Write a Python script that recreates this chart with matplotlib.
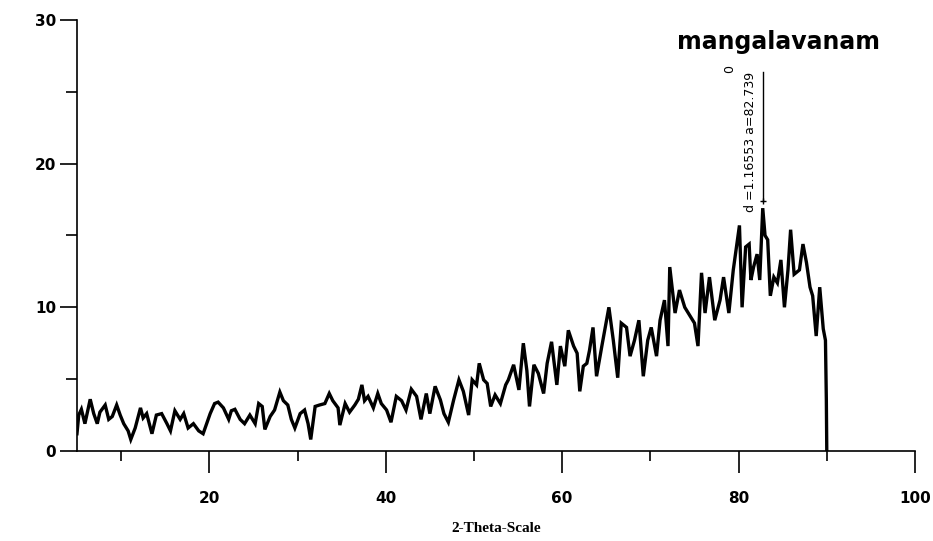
import matplotlib
matplotlib.use("Agg")
import matplotlib.pyplot as plt
from matplotlib.ticker import MultipleLocator

# 2-theta positions and intensities
two_theta = [
    5.0, 5.2, 5.5, 5.9, 6.5, 6.9, 7.3, 7.6, 8.2, 8.6, 9.0, 9.5, 9.9, 10.3, 10.8,
    11.1, 11.6, 12.2, 12.5, 12.9, 13.5, 14.0, 14.6, 15.2, 15.6, 16.1, 16.7, 17.1,
    17.6, 18.2, 18.8, 19.3, 19.7, 20.1, 20.6, 21.0, 21.6, 22.2, 22.5, 22.9, 23.5,
    24.0, 24.6, 25.2,
    25.6, 26.0, 26.3, 26.9, 27.4, 28.0, 28.4, 28.9, 29.3, 29.7, 30.3, 30.8, 31.2,
    31.5, 32.0, 32.5, 33.1, 33.6, 34.0, 34.6, 34.8, 35.4, 35.9, 36.5, 36.9, 37.3,
    37.6, 38.0, 38.6, 39.1, 39.5, 40.1, 40.6, 41.2, 41.8, 42.3, 42.9, 43.5, 44.0,
    44.6,
    45.0, 45.6, 46.2, 46.6, 47.1, 47.7, 48.3, 48.8, 49.4, 49.8, 50.3, 50.6, 51.1,
    51.5, 51.9, 52.4, 53.0, 53.6, 53.9, 54.5, 55.1, 55.6, 56.0, 56.3, 56.8, 57.3,
    57.9, 58.3, 58.8, 59.4, 59.8, 60.3, 60.7, 61.3, 61.7, 62.0, 62.4,
    62.8, 63.1, 63.5, 63.9, 64.5, 65.3, 65.8, 66.3, 66.7, 67.3, 67.7, 68.2, 68.7,
    69.2, 69.7, 70.1, 70.7, 71.1, 71.6, 72.0, 72.2, 72.8, 73.3, 73.9, 74.5, 75.0,
    75.4, 75.8,
    76.2, 76.7, 77.3, 77.9, 78.3, 78.9, 79.4, 79.8, 80.1, 80.4, 80.8, 81.2, 81.4,
    81.7, 82.1, 82.4, 82.74, 83.0, 83.3, 83.6, 84.0, 84.4, 84.8, 85.2, 85.6, 85.9,
    86.3, 86.9, 87.3, 87.7, 88.1, 88.4, 88.8, 89.2, 89.6, 89.85, 89.95, 90.0,
]
counts = [
    1.2, 2.5, 2.9, 1.9, 3.6, 2.6, 1.9, 2.7, 3.2, 2.2, 2.4, 3.2, 2.5, 1.9, 1.4,
    0.8, 1.6, 3.0, 2.3, 2.6, 1.2, 2.5, 2.6, 1.9, 1.4, 2.8, 2.2, 2.6,
    1.6, 1.9, 1.4, 1.2, 1.9, 2.6, 3.3, 3.4, 3.0, 2.2, 2.8, 2.9, 2.2,
    1.9, 2.5, 1.9,
    3.3, 3.1, 1.5, 2.4, 2.85, 4.1, 3.5, 3.2, 2.2, 1.6, 2.6, 2.85, 1.9,
    0.8, 3.1, 3.2, 3.3, 4.0, 3.5, 3.0, 1.8, 3.3, 2.7, 3.2, 3.6, 4.6,
    3.5, 3.8, 3.0, 4.0, 3.3, 2.85, 2.0, 3.8, 3.5, 2.85, 4.3, 3.8, 2.2,
    4.0,
    2.6, 4.5, 3.55, 2.6, 2.0, 3.55, 4.95, 4.15, 2.5, 4.95, 4.6, 6.1, 4.95,
    4.7, 3.1, 3.9, 3.3, 4.6, 4.95, 6.0, 4.25, 7.5, 5.6, 3.1, 6.0, 5.4,
    4.0, 6.1, 7.6, 4.6, 7.3, 5.9, 8.4, 7.3, 6.8, 4.15, 5.9,
    6.1, 7.0, 8.6, 5.2, 7.3, 10.0, 7.7, 5.1, 8.9, 8.6, 6.6, 7.7, 9.1,
    5.2, 7.7, 8.6, 6.6, 9.1, 10.5, 7.3, 12.8, 9.6, 11.2, 10.0, 9.4, 8.9,
    7.3, 12.4,
    9.6, 12.1, 9.1, 10.5, 12.1, 9.6, 12.6, 14.4, 15.7, 10.0, 14.2, 14.4, 11.9,
    12.8, 13.7, 11.9, 16.9, 15.0, 14.7, 10.8, 12.1, 11.7, 13.3, 10.0, 12.6, 15.4,
    12.3, 12.6, 14.4, 13.1, 11.4, 10.8, 8.0, 11.4, 8.5, 7.7, 3.55, 0.0,
]

peak_theta = 82.739
peak_d = 1.16553

fig = plt.figure(figsize=(9.33, 5.41), dpi=100)
ax = fig.add_axes([0.0825, 0.1664, 0.8982, 0.7967])

ax.plot(two_theta, counts, color="black", linewidth=2.4, solid_joinstyle="miter")

# peak marker
ax.plot([peak_theta, peak_theta], [17.4, 26.4], color="black", linewidth=1.0)
ax.plot([peak_theta], [17.4], marker="+", color="black", markersize=5, mew=1.0)
ax.text(81.4, 16.6, "d =1.16553 a=82.739", rotation=90, ha="center", va="bottom",
        fontsize=9, family="DejaVu Sans")
ax.text(79.0, 26.6, "0", rotation=90, ha="center", va="center",
        fontsize=9, family="DejaVu Sans")

ax.text(84.5, 28.5, "mangalavanam", ha="center", va="center", fontsize=17,
        fontweight="bold", family="DejaVu Sans")

ax.set_xlim(5, 100)
ax.set_ylim(0, 30)
ax.xaxis.set_major_locator(MultipleLocator(20))
ax.xaxis.set_minor_locator(MultipleLocator(10))
ax.yaxis.set_major_locator(MultipleLocator(10))
ax.yaxis.set_minor_locator(MultipleLocator(5))

ax.spines["top"].set_visible(False)
ax.spines["right"].set_visible(False)
for s in ("left", "bottom"):
    ax.spines[s].set_linewidth(1.2)

ax.tick_params(axis="x", which="major", length=16, width=1.2, pad=13, labelsize=11)
ax.tick_params(axis="x", which="minor", length=7, width=1.2)
ax.tick_params(axis="y", which="major", length=12, width=1.2, pad=3, labelsize=11)
ax.tick_params(axis="y", which="minor", length=8, width=1.2)
for lab in ax.get_xticklabels() + ax.get_yticklabels():
    lab.set_fontweight("bold")

ax.set_xlabel("2-Theta-Scale", fontsize=11, fontweight="bold",
              family="Liberation Serif", labelpad=11)

fig.savefig("out.png", dpi=100)
